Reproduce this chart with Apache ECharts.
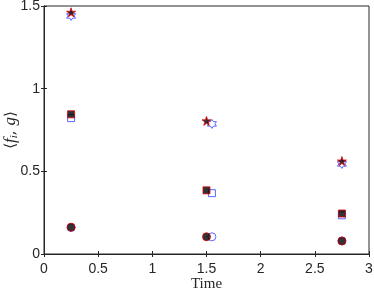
<!DOCTYPE html>
<html><head><meta charset="utf-8">
<script src="https://cdn.jsdelivr.net/npm/echarts@6/dist/echarts.min.js"></script>
<style>html,body{margin:0;padding:0;background:#fff}#c{width:374px;height:291px}</style>
</head><body><div id="c"></div>
<script>
const xTicks = [0, 0.5, 1, 1.5, 2, 2.5, 3];
const yTicks = [0, 0.5, 1, 1.5];
const timesRed = [0.25, 1.5, 2.75];
const timesBlue = [0.25, 1.55, 2.75];
const starRed = [1.462, 0.805, 0.562];
const starBlue = [1.44, 0.787, 0.545];
const squareRed = [0.845, 0.385, 0.245];
const squareBlue = [0.822, 0.368, 0.234];
const circleRed = [0.162, 0.104, 0.079];
const circleBlue = [0.16, 0.104, 0.079];

const STAR = 'path://M50,0 L61,35 L98,35 L68,57 L79,91 L50,70 L21,91 L32,57 L2,35 L39,35 Z';
const HEX = 'path://M50,0 L64,25 L93,25 L79,50 L93,75 L64,75 L50,100 L36,75 L7,75 L21,50 L7,25 L36,25 Z';
function pts(xs, ys){ return xs.map((x,i)=>[x, ys[i]]); }
const red = {color:'#000', borderColor:'#e00000', borderWidth:1};
const blue = {color:'rgba(255,255,255,0)', borderColor:'#3344ff', borderWidth:1};
const ax = '#262626';
const lab = {color:ax, fontFamily:'Liberation Sans, Arial', fontSize:14};
const chart = echarts.init(document.getElementById('c'));
chart.setOption({
  animation:false,
  grid:{left:44, right:5, top:6, bottom:37, containLabel:false, outerBoundsMode:'none', show:true, borderColor:ax, borderWidth:1, backgroundColor:'#fff'},
  xAxis:[{type:'value', min:0, max:3, interval:0.5,
    axisLine:{lineStyle:{color:ax}}, axisTick:{inside:true, length:3, lineStyle:{color:ax}},
    axisLabel:Object.assign({margin:8, formatter:v=>String(v)}, lab),
    splitLine:{show:false},
    name:'Time', nameLocation:'middle', nameGap:23, nameMoveOverlap:false,
    nameTextStyle:{fontFamily:'Liberation Serif, serif', fontSize:15, color:'#262626'}},
   {type:'value', min:0, max:3, interval:0.5, position:'top',
    axisLine:{show:true, lineStyle:{color:ax}}, axisTick:{inside:true, length:3, lineStyle:{color:ax}},
    axisLabel:{show:false}, splitLine:{show:false}}],
  yAxis:[{type:'value', min:0, max:1.5, interval:0.5,
    axisLine:{show:true, lineStyle:{color:ax}}, axisTick:{inside:true, length:3, lineStyle:{color:ax}},
    axisLabel:Object.assign({margin:4, formatter:v=>String(v)}, lab),
    splitLine:{show:false},
    name:'{a|⟨}{b|f}{c|i}{a|, }{b|g}{a|⟩}', nameLocation:'middle', nameGap:24, nameRotate:90, nameMoveOverlap:false,
    nameTextStyle:{color:'#262626', rich:{
      a:{fontFamily:'DejaVu Serif, serif', fontSize:15, color:'#262626'},
      b:{fontFamily:'Liberation Serif, serif', fontStyle:'italic', fontSize:17, color:'#262626'},
      c:{fontFamily:'Liberation Serif, serif', fontStyle:'italic', fontSize:11, color:'#262626', padding:[7,0,0,0]}}}},
   {type:'value', min:0, max:1.5, interval:0.5, position:'right',
    axisLine:{show:true, lineStyle:{color:ax}}, axisTick:{inside:true, length:3, lineStyle:{color:ax}},
    axisLabel:{show:false}, splitLine:{show:false}}],
  series:[
    {type:'scatter', symbol:HEX, symbolSize:9, data:pts(timesBlue, starBlue), itemStyle:blue},
    {type:'scatter', symbol:'rect', symbolSize:7, data:pts(timesBlue, squareBlue), itemStyle:blue},
    {type:'scatter', symbol:'circle', symbolSize:8, data:pts(timesBlue, circleBlue), itemStyle:blue},
    {type:'scatter', symbol:STAR, symbolSize:9, data:pts(timesRed, starRed), itemStyle:red},
    {type:'scatter', symbol:'rect', symbolSize:7, data:pts(timesRed, squareRed), itemStyle:red},
    {type:'scatter', symbol:'circle', symbolSize:8, data:pts(timesRed, circleRed), itemStyle:red}
  ]
});
</script></body></html>
